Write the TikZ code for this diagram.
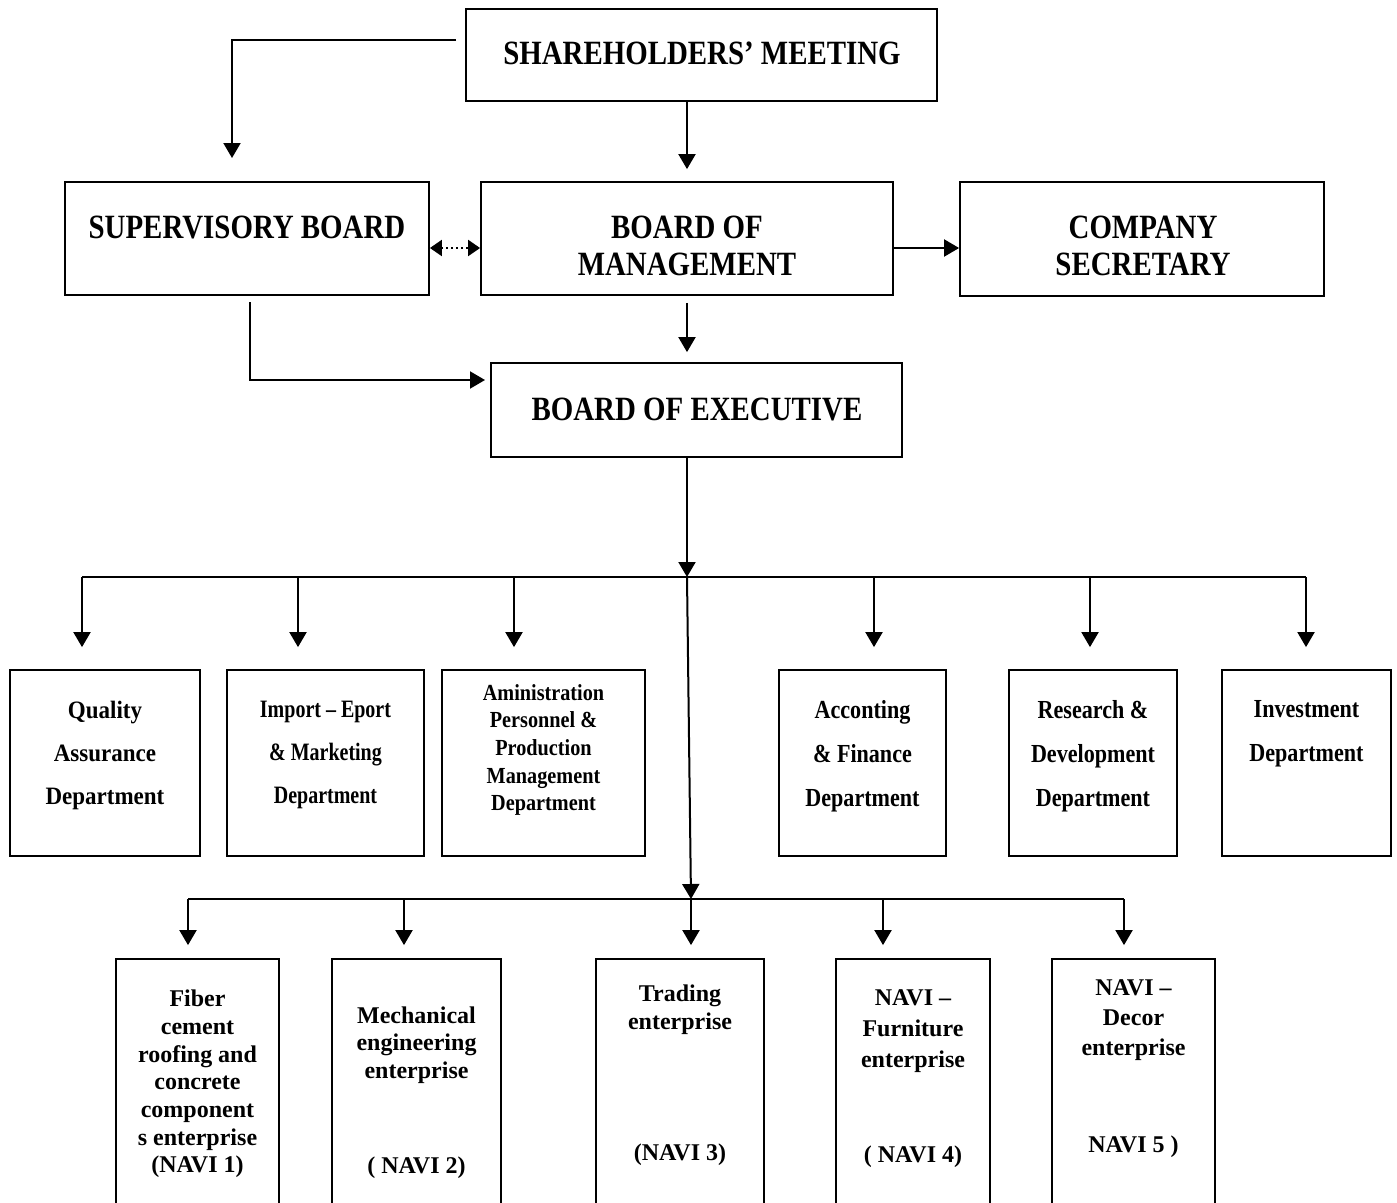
\documentclass[tikz,border=0pt]{standalone}
\usepackage{fontspec}
\setmainfont{Liberation Serif}
\newfontfamily\fTop[FakeStretch=0.85]{Liberation Serif}
\newfontfamily\fQA[FakeStretch=0.92]{Liberation Serif}
\newfontfamily\fImp[FakeStretch=0.8]{Liberation Serif}
\newfontfamily\fAdm[FakeStretch=0.88]{Liberation Serif}
\newfontfamily\fAcc[FakeStretch=0.85]{Liberation Serif}
\usetikzlibrary{arrows.meta}
\tikzset{
  box/.style={draw, line width=1.8pt, inner sep=0pt},
  ttop/.style={inner sep=0pt, align=center, font=\fTop\bfseries\fontsize{34}{37}\selectfont},
  tqa/.style={inner sep=0pt, align=center, font=\fQA\bfseries\fontsize{25}{43}\selectfont},
  timp/.style={inner sep=0pt, align=center, font=\fImp\bfseries\fontsize{25}{43}\selectfont},
  tadm/.style={inner sep=0pt, align=center, font=\fAdm\bfseries\fontsize{23}{27.7}\selectfont},
  tacc/.style={inner sep=0pt, align=center, font=\fAcc\bfseries\fontsize{26}{44}\selectfont},
  tent/.style={inner sep=0pt, align=center, font=\bfseries\fontsize{24}{27.7}\selectfont},
  arr/.style={line width=2pt, -{Triangle[length=15pt,width=17pt]}},
  bus/.style={line width=2pt},
  dots/.style={line width=2pt, dash pattern=on 2pt off 3pt,
     {Triangle[length=12pt,width=16pt]}-{Triangle[length=12pt,width=16pt]}}
}
\begin{document}
\begin{tikzpicture}[x=1pt,y=-1pt]
\useasboundingbox (0,0) rectangle (1397,1202);
\fill[white] (0,0) rectangle (1397,1202);
\clip (0,0) rectangle (1397,1202);

% top level boxes
\node[box, minimum width=471pt, minimum height=92pt] (sh) at (701.5,55) {};
\node[box, minimum width=364pt, minimum height=113pt] (sup) at (247,238.5) {};
\node[box, minimum width=412pt, minimum height=113pt] (bom) at (687,238.5) {};
\node[box, minimum width=364pt, minimum height=114pt] (sec) at (1142,239) {};
\node[box, minimum width=411pt, minimum height=94pt] (exe) at (696.5,410) {};

\node[ttop] (tsh) at (702,53.5) {SHAREHOLDERS’ MEETING};
\node[ttop] (tsup) at (247,227) {SUPERVISORY BOARD};
\node[ttop] (tbom) at (687,245.5) {BOARD OF\\MANAGEMENT};
\node[ttop] (tsec) at (1143,245.5) {COMPANY\\SECRETARY};
\node[ttop] (texe) at (697,409) {BOARD OF EXECUTIVE};

% departments
\node[box, minimum width=190pt, minimum height=186pt] (dep1) at (105,763) {};
\node[box, minimum width=197pt, minimum height=186pt] (dep2) at (325.5,763) {};
\node[box, minimum width=203pt, minimum height=186pt] (dep3) at (543.5,763) {};
\node[box, minimum width=167pt, minimum height=186pt] (dep4) at (862.5,763) {};
\node[box, minimum width=168pt, minimum height=186pt] (dep5) at (1093,763) {};
\node[box, minimum width=169pt, minimum height=186pt] (dep6) at (1306.5,763) {};

\node[tqa] (tdep1) at (105,755) {Quality\\Assurance\\Department};
\node[timp] (tdep2) at (325.5,755) {Import – Eport\\\& Marketing\\Department};
\node[tadm] (tdep3) at (543.5,750) {Aministration\\Personnel \&\\Production\\Management\\Department};
\node[tacc] (tdep4) at (862.5,756) {Acconting\\\& Finance\\Department};
\node[tacc] (tdep5) at (1093,756) {Research \&\\Development\\Department};
\node[tacc] (tdep6) at (1306.5,734) {Investment\\Department};

% enterprises
\node[box, minimum width=163pt, minimum height=271pt] (ent1) at (197.5,1094.5) {};
\node[box, minimum width=169pt, minimum height=271pt] (ent2) at (416.5,1094.5) {};
\node[box, minimum width=168pt, minimum height=271pt] (ent3) at (680,1094.5) {};
\node[box, minimum width=154pt, minimum height=271pt] (ent4) at (913,1094.5) {};
\node[box, minimum width=163pt, minimum height=271pt] (ent5) at (1133.5,1094.5) {};

\node[tent] (tent1) at (197.5,1084) {Fiber\\cement\\roofing and\\concrete\\component\\s enterprise\\(NAVI 1)};
\node[tent] (tent2) at (416.5,1045) {Mechanical\\engineering\\enterprise};
\node[tent] (tent2b) at (416.5,1168) {( NAVI 2)};
\node[tent] (tent3) at (680,1010) {Trading\\enterprise};
\node[tent] (tent3b) at (680,1155) {(NAVI 3)};
\node[tent, font=\bfseries\fontsize{24}{31}\selectfont] (tent4) at (913,1031) {NAVI –\\Furniture\\enterprise};
\node[tent] (tent4b) at (913,1157) {( NAVI 4)};
\node[tent, font=\bfseries\fontsize{24}{30}\selectfont] (tent5) at (1133.5,1020) {NAVI –\\Decor\\enterprise};
\node[tent] (tent5b) at (1133.5,1147) {NAVI 5 )};

% coordinates for connectors
\coordinate (shl) at (456,40);
\coordinate (supin) at (232,158);
\coordinate (supout) at (250,302);
\coordinate (exein) at (485,380);
\coordinate (b1c) at (687,577);
\coordinate (b2c) at (691,899);
\coordinate (b1a) at (82,577);
\coordinate (b1b) at (298,577);
\coordinate (b1d) at (514,577);
\coordinate (b1e) at (874,577);
\coordinate (b1f) at (1090,577);
\coordinate (b1g) at (1306,577);
\coordinate (b2a) at (188,899);
\coordinate (b2b) at (404,899);
\coordinate (b2d) at (883,899);
\coordinate (b2e) at (1124,899);

% connectors, top part
\draw[arr] (shl) -| (supin);
\draw[arr] (sh.south -| bom.north) -- ([yshift=12pt]bom.north);
\draw[dots] ([yshift=-9.5pt]sup.east) -- ([yshift=-9.5pt]bom.west);
\draw[arr] ([yshift=-9.5pt]bom.east) -- ([yshift=-9pt]sec.west);
\draw[arr] (supout) |- (exein);
\draw[arr] ([yshift=-7pt]bom.south) -- ([yshift=10pt]bom.south |- exe.north);
\draw[arr] (exe.south -| b1c) -- (b1c);

% department bus
\draw[bus] (b1a) -- (b1g);
\draw[arr, shorten >=22pt] (b1a) -- (b1a |- dep1.north);
\draw[arr, shorten >=22pt] (b1b) -- (b1b |- dep2.north);
\draw[arr, shorten >=22pt] (b1d) -- (b1d |- dep3.north);
\draw[arr, shorten >=22pt] (b1e) -- (b1e |- dep4.north);
\draw[arr, shorten >=22pt] (b1f) -- (b1f |- dep5.north);
\draw[arr, shorten >=22pt] (b1g) -- (b1g |- dep6.north);

% main trunk to enterprise bus
\draw[arr] (b1c) -- (b2c);
\draw[bus] (b2a) -- (b2e);
\draw[arr, shorten >=13pt] (b2a) -- (b2a |- ent1.north);
\draw[arr, shorten >=13pt] (b2b) -- (b2b |- ent2.north);
\draw[arr, shorten >=13pt] (b2c) -- (b2c |- ent3.north);
\draw[arr, shorten >=13pt] (b2d) -- (b2d |- ent4.north);
\draw[arr, shorten >=13pt] (b2e) -- (b2e |- ent5.north);
\end{tikzpicture}
\end{document}
